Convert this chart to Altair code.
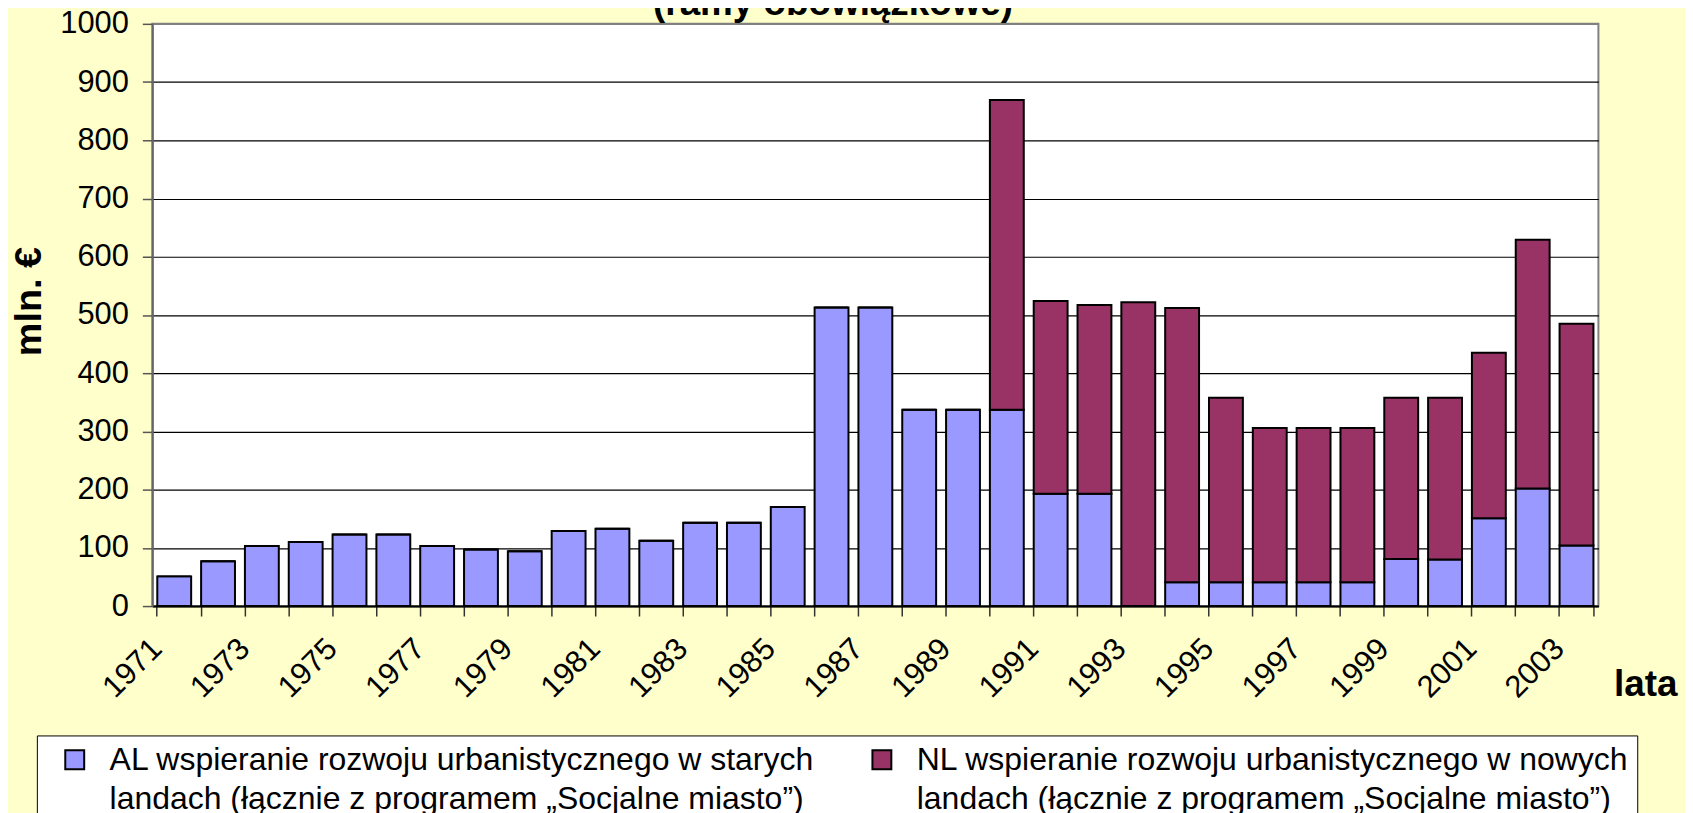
import altair as alt
import pandas as pd

FONT = "Liberation Sans"

chart_title = "(ramy obowiązkowe)"

years = ["1971", "1972", "1973", "1974", "1975", "1976", "1977", "1978", "1979", "1980",
         "1981", "1982", "1983", "1984", "1985", "1986", "1987", "1988", "1989", "1990",
         "1991", "1992", "1993", "1994", "1995", "1996", "1997", "1998", "1999", "2000",
         "2001", "2002", "2003"]

label_years = ["1971", "1973", "1975", "1977", "1979", "1981", "1983", "1985", "1987",
               "1989", "1991", "1993", "1995", "1997", "1999", "2001", "2003"]

last_year = ["2003"]

al_values = [51, 77, 103, 110, 123, 123, 103, 97, 94, 129,
             133, 112, 143, 143, 170, 513, 513, 337, 337, 337,
             193, 193, 0, 41, 41, 41, 41, 41, 81, 80,
             151, 202, 104]

nl_values = [0, 0, 0, 0, 0, 0, 0, 0, 0, 0,
             0, 0, 0, 0, 0, 0, 0, 0, 0, 532,
             331, 324, 522, 471, 317, 265, 265, 265, 277, 278,
             284, 427, 381]

series_names = [
    "AL wspieranie rozwoju urbanistycznego w starych|landach (łącznie z programem „Socjalne miasto”)",
    "NL wspieranie rozwoju urbanistycznego w nowych|landach (łącznie z programem „Socjalne miasto”)",
]
series_colors = ["#9999FF", "#993366"]

y_ticks = [0, 100, 200, 300, 400, 500, 600, 700, 800, 900, 1000]

rows = []
for i, yr in enumerate(years):
    rows.append({"year": yr, "series": series_names[0], "value": al_values[i], "o": 0})
    rows.append({"year": yr, "series": series_names[1], "value": nl_values[i], "o": 1})
df = pd.DataFrame(rows)

x_scale = alt.Scale(domain=years, paddingInner=0.227, paddingOuter=0.1135)
y_scale = alt.Scale(domain=[0, 1000], nice=False)

y_axis = alt.Axis(
    values=y_ticks, format="d", title="mln. €", titleFont=FONT, titleFontSize=38,
    titleFontWeight="bold", titleColor="black", titleAngle=-90, titleX=-123.6, titleY=278.5,
    titleAlign="center", titleBaseline="middle", labelFont=FONT, labelFontSize=31,
    labelColor="black", labelPadding=14, labelFlush=False, labelOverlap=False, tickSize=10,
    tickColor="#555555", tickWidth=1.5, domainColor="#666666", domainWidth=2, grid=True,
    gridColor={"condition": {"test": "datum.value >= 1000", "value": "#808080"}, "value": "#000000"},
    gridWidth=1.2,
)

bars = alt.Chart(df).mark_bar(stroke="black", strokeWidth=2).encode(
    x=alt.X("year:N", scale=x_scale, sort=years, axis=alt.Axis(
        orient="bottom", values=label_years, labelAngle=-45, labelAlign="right",
        labelBaseline="middle", labelOffset=-17, labelPadding=38, labelFontSize=31,
        labelFont=FONT, labelColor="black", labelOverlap=False, labelFlush=False,
        ticks=False, domain=True, domainColor="black", domainWidth=2, grid=False,
        title="lata", titleFont=FONT, titleFontSize=37, titleFontWeight="bold",
        titleColor="black", titleX=1500, titleY=89.5, titleAlign="center",
        titleBaseline="alphabetic", titleAngle=0)),
    y=alt.Y("value:Q", stack="zero", scale=y_scale, axis=y_axis),
    color=alt.Color("series:N", scale=alt.Scale(domain=series_names, range=series_colors),
                    legend=alt.Legend(
                        orient="none", legendX=-116, legendY=715, direction="horizontal",
                        columns=2, title=None, labelExpr="split(datum.label, '|')",
                        labelFont=FONT, labelFontSize=32.1, labelColor="black", labelLimit=1500,
                        labelOffset=19, symbolType="square", symbolSize=361,
                        symbolStrokeColor="black", symbolStrokeWidth=2, symbolOffset=14,
                        padding=8, fillColor="white", strokeColor="black",
                        columnPadding=38, rowPadding=0)),
    order=alt.Order("o:Q"),
)

tick_layer = alt.Chart(df).mark_bar(opacity=0).encode(
    x=alt.X("year:N", scale=x_scale, sort=years, axis=alt.Axis(
        orient="bottom", bandPosition=0, ticks=True, tickSize=10, tickColor="#333333",
        tickWidth=1.5, labels=False, domain=False, grid=False, title=None)),
)

end_tick_layer = alt.Chart(df).mark_bar(opacity=0).encode(
    x=alt.X("year:N", scale=x_scale, sort=years, axis=alt.Axis(
        orient="bottom", bandPosition=1, values=last_year, ticks=True, tickSize=10,
        tickColor="#333333", tickWidth=1.5, labels=False, domain=False, grid=False,
        title=None)),
)

title_layer = alt.Chart(pd.DataFrame({"t": [chart_title]})).mark_text(
    font=FONT, fontSize=37, fontWeight="bold", align="center", baseline="alphabetic",
    color="black",
).encode(text="t:N", x=alt.value(684), y=alt.value(-8.5))

chart = alt.layer(tick_layer, end_tick_layer, bars, title_layer).resolve_axis(
    x="independent"
).properties(
    width=1453, height=585,
    padding={"left": 145, "top": 14, "right": 87, "bottom": 206},
    autosize=alt.AutoSizeParams(type="none"),
    background="#FFFFCC",
).configure(
    style={"guide-label": {"lineHeight": 39}},
).configure_view(stroke="#808080", strokeWidth=2, fill="white")

chart.save("out.html", embed_options={"renderer": "svg", "actions": False})
